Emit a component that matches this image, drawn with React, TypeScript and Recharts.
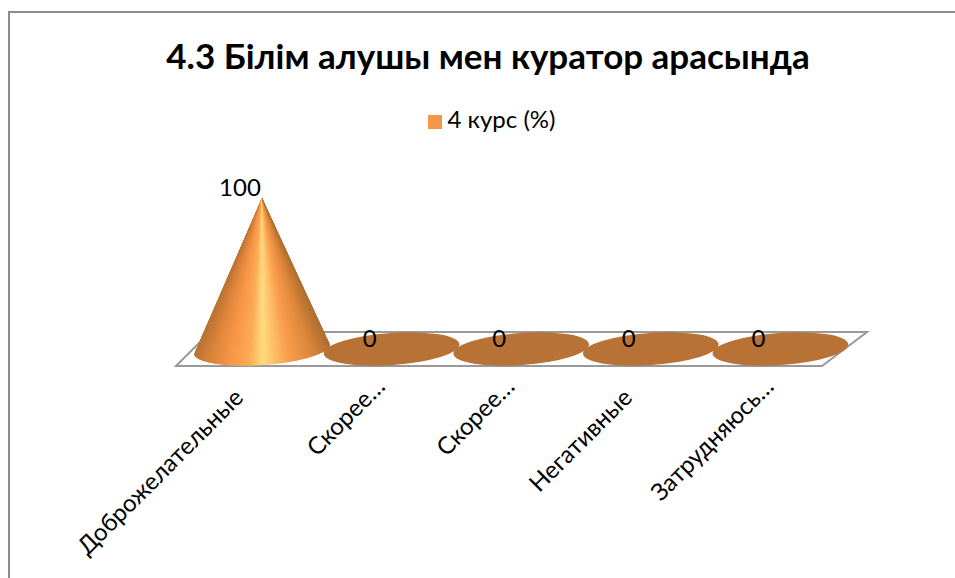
import React from 'react';
import { BarChart, Bar, XAxis, YAxis, Legend, LabelList, usePlotArea } from 'recharts';

const categories = ['Доброжелательные', 'Скорее…', 'Скорее…', 'Негативные', 'Затрудняюсь…'];
const values = [100, 0, 0, 0, 0];

const seriesName = '4 курс (%)';
const titleText = '4.3 Білім алушы мен куратор арасында';

const FONT = 'Lato, "Open Sans", sans-serif';
const ORANGE = '#F79646';
const BASE_BROWN = '#B97236';
const FRAME = '#8C8C8C';
const FLOOR = '#999999';

// cone shading, left edge to right edge
const coneStops: [number, number[]][] = [
  [0, [184, 114, 50]],
  [0.12, [222, 133, 58]],
  [0.26, [247, 150, 70]],
  [0.4, [252, 170, 85]],
  [0.5, [255, 219, 128]],
  [0.56, [255, 200, 110]],
  [0.7, [250, 156, 76]],
  [0.86, [222, 135, 58]],
  [1, [176, 110, 48]],
];

const data = categories.map((name, i) => ({ name, value: values[i] }));

const shadeAt = (u: number) => {
  let i = 0;
  while (i < coneStops.length - 2 && u > coneStops[i + 1][0]) i++;
  const [a, ca] = coneStops[i];
  const [b, cb] = coneStops[i + 1];
  const k = (u - a) / (b - a);
  const c = ca.map((v, j) => Math.round(v + (cb[j] - v) * k));
  return `rgb(${c.join(',')})`;
};

// flat disc or cone, base is a slightly tilted ellipse like the 3D chart in Excel
const ConeShape = (props: any) => {
  const { x, y, width, height, index } = props;
  const cx = x + width / 2;
  const rx = width / 2;
  const ry = 16;
  const tilt = -4;
  const baseY = y + height;
  if (height < 1) {
    return <ellipse cx={cx} cy={baseY} rx={rx} ry={ry} fill={BASE_BROWN} transform={`rotate(${tilt} ${cx} ${baseY})`} />;
  }
  // wedges from the apex so the shading converges like a real cone
  const r = (tilt * Math.PI) / 180;
  const rim = (t: number) => {
    const ex = -rx * Math.cos(t);
    const ey = ry * Math.sin(t);
    return [cx + ex * Math.cos(r) - ey * Math.sin(r), baseY + ex * Math.sin(r) + ey * Math.cos(r)];
  };
  const n = 72;
  const wedges = [];
  const outline = [`${cx},${y}`];
  for (let i = 0; i < n; i++) {
    const t0 = (Math.PI * i) / n;
    const t1 = (Math.PI * (i + 1)) / n;
    const p0 = rim(t0);
    const p1 = rim(t1);
    outline.push(p0.join(','));
    const col = shadeAt((1 - Math.cos((t0 + t1) / 2)) / 2);
    wedges.push(<polygon key={i} points={`${cx},${y} ${p0.join(',')} ${p1.join(',')}`} fill={col} stroke={col} strokeWidth={1} />);
  }
  outline.push(rim(Math.PI).join(','));
  const clipId = `coneClip${index}`;
  return (
    <g>
      <clipPath id={clipId}>
        <polygon points={outline.join(' ')} />
      </clipPath>
      <g clipPath={`url(#${clipId})`} shapeRendering="crispEdges">
        {wedges}
      </g>
    </g>
  );
};

// the floor of the 3D box, taken from the plot area
const Floor = () => {
  const plot = usePlotArea();
  if (!plot) return null;
  const front = plot.y + plot.height + 17;
  const back = plot.y + plot.height - 17;
  const left = plot.x;
  const right = plot.x + plot.width;
  const points = [
    [left - 21, front],
    [right - 23, front],
    [right + 22, back],
    [left + 13, back],
  ]
    .map((p) => p.join(','))
    .join(' ');
  return <polygon points={points} fill="#fff" stroke={FLOOR} strokeWidth={2} />;
};

const SlantTick = (props: any) => {
  const { x, y, payload } = props;
  // cut-off labels sit closer to their category in the original
  const cut = String(payload.value).endsWith('…');
  const ex = x - 17 + (cut ? 12 : 0);
  const ey = y + 42 - (cut ? 11 : 0);
  return (
    <text x={ex} y={ey} textAnchor="end" fontFamily={FONT} fontSize={24} fill="#000" transform={`rotate(-45 ${ex} ${ey})`}>
      {payload.value}
    </text>
  );
};

const App = () => {
  return (
    <div style={{ position: 'absolute', left: 0, top: 0, width: 955, height: 578, background: '#fff', overflow: 'hidden' }}>
      <div style={{ position: 'absolute', left: 8, top: 11, width: 960, height: 580, borderLeft: `2px solid ${FRAME}`, borderTop: `2px solid ${FRAME}`, boxSizing: 'border-box' }} />
      <BarChart
        width={955}
        height={578}
        data={data}
        barCategoryGap={-3}
        margin={{ top: 169, right: 110, bottom: 228, left: 197 }}
        style={{ position: 'absolute', left: 0, top: 0 }}
      >
        <text x={488} y={69} textAnchor="middle" fontFamily={FONT} fontSize={35} fontWeight={700} fill="#000">
          {titleText}
        </text>
        <Floor />
        <XAxis dataKey="name" axisLine={false} tickLine={false} interval={0} tick={<SlantTick />} height={1} />
        <YAxis hide domain={[0, 100]} />
        <Legend
          verticalAlign="top"
          iconType="square"
          iconSize={14}
          wrapperStyle={{ position: 'absolute', top: 104, left: 0, width: 993, fontFamily: FONT, fontSize: 24 }}
          formatter={(v) => <span style={{ color: '#000', marginLeft: 2 }}>{v}</span>}
        />
        <Bar dataKey="value" name={seriesName} fill={ORANGE} shape={<ConeShape />} isAnimationActive={false}>
          <LabelList dataKey="value" position="top" dx={-22} offset={2} fill="#000" fontFamily={FONT} fontSize={24} />
        </Bar>
      </BarChart>
    </div>
  );
};

export default App;
